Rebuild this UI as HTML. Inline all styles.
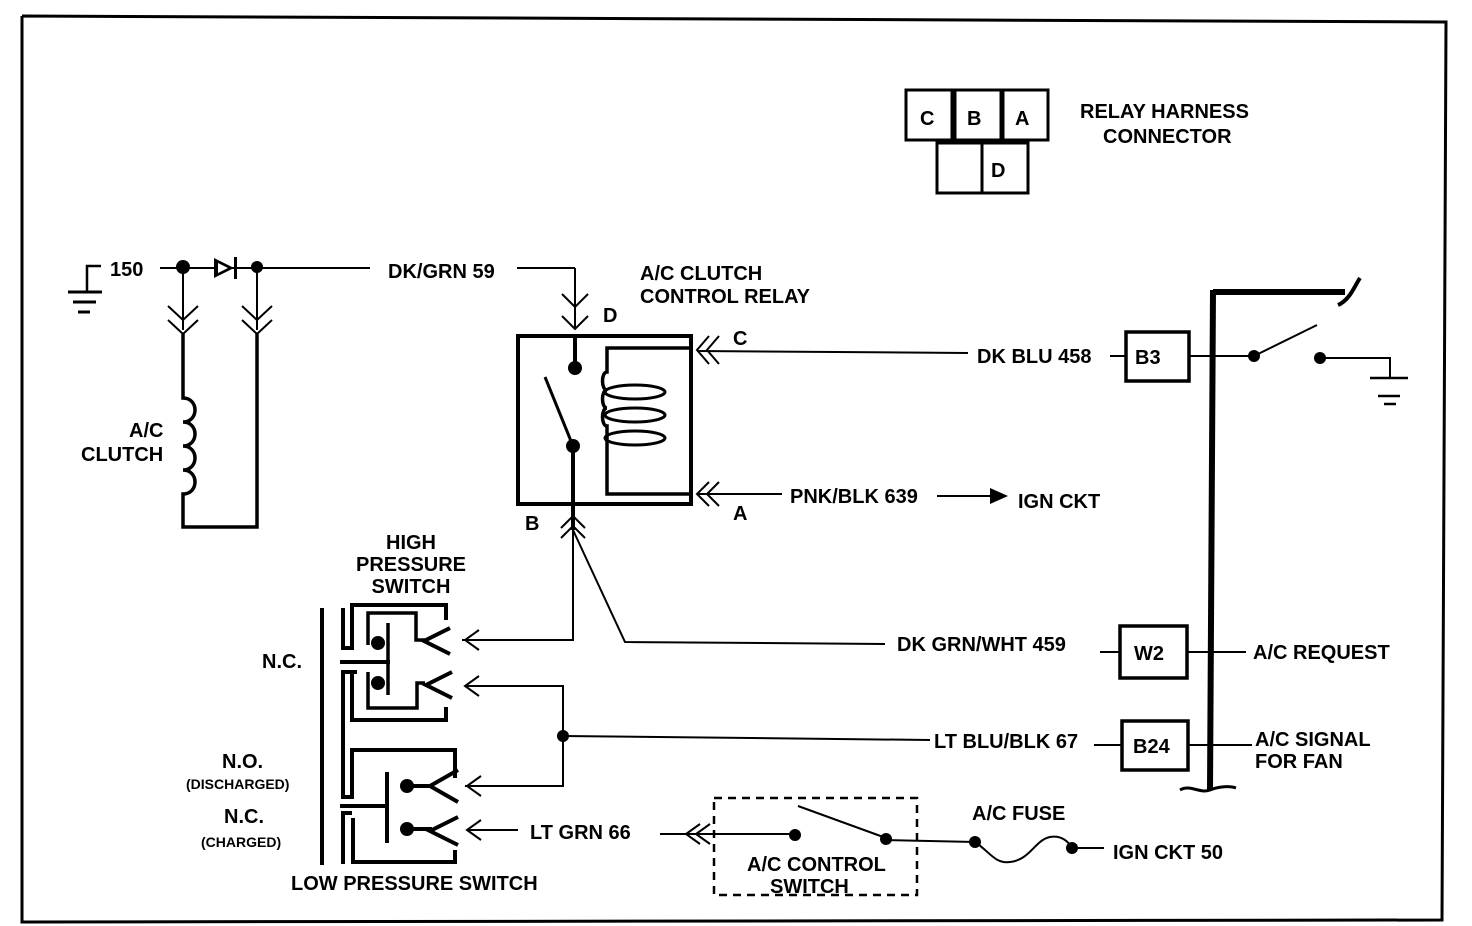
<!DOCTYPE html>
<html><head><style>
body{margin:0;background:#fff}
svg{display:block}
text{font-family:"Liberation Sans",sans-serif;font-weight:bold;font-size:20px;fill:#000}
.s{font-size:14px}
</style></head><body>
<svg width="1472" height="926" viewBox="0 0 1472 926" xmlns="http://www.w3.org/2000/svg">
<g fill="none" stroke="#000" stroke-width="3">
<polyline points="22,16 1446,22 1442,920 22,922 22,16"/>
<rect x="906" y="90" width="46" height="50"/><rect x="955" y="90" width="46" height="50"/><rect x="1003" y="90" width="45" height="50"/>
<rect x="937" y="143" width="45" height="50"/><rect x="982" y="143" width="46" height="50"/>
<polyline points="101,266 87,266 87,292" stroke-width="2.5"/>
<line x1="68" y1="292" x2="102" y2="292"/><line x1="73" y1="302" x2="96" y2="302"/><line x1="78" y1="312" x2="90" y2="312"/>
<line x1="160" y1="268" x2="370" y2="268" stroke-width="2"/>
<line x1="183" y1="268" x2="183" y2="330" stroke-width="2"/>
<line x1="257" y1="268" x2="257" y2="330" stroke-width="2"/>
<polyline points="168,306 183,320 198,306" stroke-width="2"/><polyline points="168,320 183,334 198,320" stroke-width="2"/>
<polyline points="242,306 257,320 272,306" stroke-width="2"/><polyline points="242,320 257,334 272,320" stroke-width="2"/>
<path d="M183,334 V398 c16,0 16,24 0,24 c16,0 16,24 0,24 c16,0 16,24 0,24 c16,0 16,24 0,24 V527 H257 V334" stroke-width="3.5"/>
<line x1="517" y1="268" x2="575" y2="268" stroke-width="2"/><line x1="575" y1="268" x2="575" y2="328" stroke-width="2"/>
<polyline points="562,294 575,307 588,294" stroke-width="2"/><polyline points="562,316 575,329 588,316" stroke-width="2"/>
<rect x="518" y="336" width="173" height="168" stroke-width="4"/>
<line x1="575" y1="336" x2="575" y2="366" stroke-width="4"/>
<line x1="545" y1="377" x2="573" y2="446" stroke-width="3"/>
<line x1="573" y1="446" x2="573" y2="530" stroke-width="4"/>
<path d="M691,348 H607 V372 c-6,0 -6,18 0,18 c-6,0 -6,18 0,18 c-6,0 -6,18 0,18 V494 H691" stroke-width="3.5"/>
<ellipse cx="635" cy="392" rx="30" ry="7"/><ellipse cx="635" cy="415" rx="30" ry="7"/><ellipse cx="635" cy="438" rx="30" ry="7"/>
<polyline points="709,336 697,350 709,364" stroke-width="2"/><polyline points="719,336 707,350 719,364" stroke-width="2"/>
<line x1="697" y1="351" x2="968" y2="353" stroke-width="2"/>
<polyline points="709,482 697,494 709,506" stroke-width="2"/><polyline points="719,482 707,494 719,506" stroke-width="2"/>
<line x1="697" y1="494" x2="782" y2="494" stroke-width="2"/>
<line x1="937" y1="496" x2="990" y2="496" stroke-width="2"/>
<polyline points="561,528 573,516 585,528" stroke-width="2"/><polyline points="561,538 573,526 585,538" stroke-width="2"/>
<polyline points="573,526 573,640 462,640" stroke-width="2"/>
<polyline points="573,530 625,642 885,644" stroke-width="2"/>
<!-- pressure switches -->
<line x1="322" y1="608" x2="322" y2="865" stroke-width="4"/>
<path d="M343,608 V648 H352 V605 H446 V620" stroke-width="4"/>
<path d="M340,662 H390" stroke-width="4"/>
<path d="M357,672 H343 V797 H352 V750 H455 V778" stroke-width="4"/>
<path d="M352,672 V720 H446 V707" stroke-width="4"/>
<path d="M368,645 V613 H416 V640 H425" stroke-width="3.5"/>
<path d="M368,672 V708 H417 V683 H425" stroke-width="3.5"/>
<path d="M388,623 V695" stroke-width="3.5"/>
<path d="M340,806 H385" stroke-width="4"/>
<path d="M343,864 V813 H352" stroke-width="4"/>
<path d="M353,818 V862 H455 V850" stroke-width="4"/>
<path d="M387,772 V843" stroke-width="4"/>
<polyline points="450,628 424,641 450,654" stroke-width="4"/>
<polyline points="452,672 426,685 452,698" stroke-width="4"/>
<polyline points="458,770 430,786 458,802" stroke-width="4"/>
<polyline points="458,817 430,831 458,845" stroke-width="4"/>
<line x1="408" y1="786" x2="432" y2="786" stroke-width="4"/><line x1="408" y1="829" x2="432" y2="829" stroke-width="4"/>
<polyline points="479,630 465,640 479,650" stroke-width="2"/>
<polyline points="479,676 465,686 479,696" stroke-width="2"/>
<polyline points="465,686 563,686 563,786 465,786" stroke-width="2"/>
<polyline points="481,776 467,786 481,796" stroke-width="2"/>
<polyline points="481,820 467,830 481,840" stroke-width="2"/>
<line x1="467" y1="830" x2="518" y2="830" stroke-width="2"/>
<line x1="563" y1="736" x2="930" y2="740" stroke-width="2"/>
<rect x="714" y="798" width="203" height="97" stroke-dasharray="8,6" stroke-width="2.5"/>
<polyline points="700,824 686,834 700,844" stroke-width="2"/><polyline points="710,824 696,834 710,844" stroke-width="2"/>
<line x1="660" y1="834" x2="795" y2="834" stroke-width="2"/>
<line x1="798" y1="806" x2="886" y2="838" stroke-width="2"/>
<line x1="886" y1="840" x2="975" y2="842" stroke-width="2"/>
<path d="M975,842 c15,10 20,22 35,20 c20,-2 25,-22 40,-25 c12,-2 18,5 22,10" stroke-width="2"/>
<line x1="1072" y1="848" x2="1104" y2="848" stroke-width="2"/>
<line x1="1213" y1="290" x2="1210" y2="790" stroke-width="6"/>
<polyline points="1213,292 1345,292" stroke-width="6"/>
<path d="M1338,305 C1350,300 1355,285 1360,278" stroke-width="4"/>
<path d="M1180,790 c10,-6 20,4 30,0 c10,-4 20,-4 26,-2" stroke-width="3"/>
<rect x="1126" y="332" width="63" height="49" stroke-width="3.5"/>
<rect x="1120" y="626" width="67" height="52" stroke-width="3.5"/>
<rect x="1122" y="721" width="66" height="49" stroke-width="3.5"/>
<line x1="1110" y1="356" x2="1126" y2="356" stroke-width="2"/>
<line x1="1189" y1="356" x2="1254" y2="356" stroke-width="2"/>
<line x1="1254" y1="356" x2="1317" y2="325" stroke-width="2"/>
<polyline points="1320,358 1390,358 1390,378" stroke-width="2"/>
<line x1="1370" y1="378" x2="1408" y2="378" stroke-width="2.5"/><line x1="1378" y1="396" x2="1400" y2="396" stroke-width="2.5"/><line x1="1384" y1="404" x2="1396" y2="404" stroke-width="2.5"/>
<line x1="1100" y1="652" x2="1120" y2="652" stroke-width="2"/>
<line x1="1187" y1="652" x2="1246" y2="652" stroke-width="2"/>
<line x1="1094" y1="745" x2="1122" y2="745" stroke-width="2"/>
<line x1="1188" y1="745" x2="1252" y2="745" stroke-width="2"/>
</g>
<g fill="#000">
<circle cx="183" cy="267" r="7"/><circle cx="257" cy="267" r="6"/>
<polygon points="214,258 214,278 234,268"/>
<polygon points="218,263 218,273 228,268" fill="#fff"/>
<rect x="234" y="257" width="3" height="22"/>
<circle cx="575" cy="368" r="7"/><circle cx="573" cy="446" r="7"/>
<circle cx="378" cy="643" r="7"/><circle cx="378" cy="683" r="7"/>
<circle cx="407" cy="786" r="7"/><circle cx="407" cy="829" r="7"/>
<circle cx="563" cy="736" r="6"/>
<circle cx="795" cy="835" r="6"/><circle cx="886" cy="839" r="6"/>
<circle cx="975" cy="842" r="6"/><circle cx="1072" cy="848" r="6"/>
<circle cx="1254" cy="356" r="6"/><circle cx="1320" cy="358" r="6"/>
<polygon points="990,488 1008,496 990,504"/>
</g>
<text x="920" y="125">C</text><text x="967" y="125">B</text><text x="1015" y="125">A</text><text x="991" y="177">D</text>
<text x="1080" y="118">RELAY HARNESS</text><text x="1103" y="143">CONNECTOR</text>
<text x="110" y="276">150</text><text x="388" y="278">DK/GRN 59</text>
<text x="640" y="280">A/C CLUTCH</text><text x="640" y="303">CONTROL RELAY</text>
<text x="603" y="322">D</text><text x="733" y="345">C</text><text x="733" y="520">A</text><text x="525" y="530">B</text>
<text x="129" y="437">A/C</text><text x="81" y="461">CLUTCH</text>
<text x="977" y="363">DK BLU 458</text><text x="1135" y="364">B3</text>
<text x="790" y="503">PNK/BLK 639</text><text x="1018" y="508">IGN CKT</text>
<text x="411" y="549" text-anchor="middle">HIGH</text><text x="411" y="571" text-anchor="middle">PRESSURE</text><text x="411" y="593" text-anchor="middle">SWITCH</text>
<text x="262" y="668">N.C.</text>
<text x="222" y="768">N.O.</text><text class="s" x="186" y="789">(DISCHARGED)</text>
<text x="224" y="823">N.C.</text><text class="s" x="201" y="847">(CHARGED)</text>
<text x="291" y="890">LOW PRESSURE SWITCH</text>
<text x="897" y="651">DK GRN/WHT 459</text><text x="1134" y="660">W2</text>
<text x="1253" y="659">A/C REQUEST</text>
<text x="934" y="748">LT BLU/BLK 67</text><text x="1133" y="753">B24</text>
<text x="1255" y="746">A/C SIGNAL</text><text x="1255" y="768">FOR FAN</text>
<text x="530" y="839">LT GRN 66</text>
<text x="747" y="871">A/C CONTROL</text><text x="770" y="893">SWITCH</text>
<text x="972" y="820">A/C FUSE</text><text x="1113" y="859">IGN CKT 50</text>
</svg>
</body></html>
